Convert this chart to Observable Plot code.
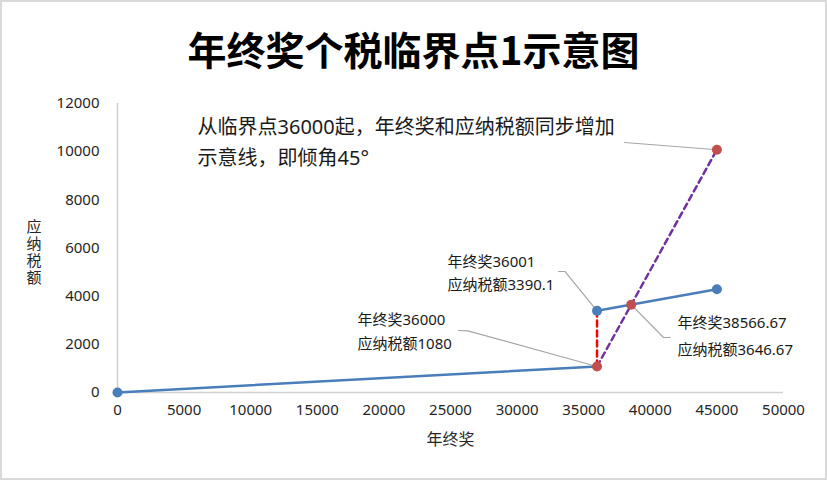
<!DOCTYPE html>
<html><head><meta charset="utf-8">
<script src="https://cdn.jsdelivr.net/npm/d3@7"></script>
<script src="https://cdn.jsdelivr.net/npm/@observablehq/plot@0.6"></script>
<style>
body{margin:0;background:#fff;}
#wrap{position:relative;width:827px;height:480px;overflow:hidden;background:#fff;font-family:"Noto Sans","Noto Sans CJK SC",sans-serif;}
#title{position:absolute;left:0;top:22px;width:827px;text-align:center;font:bold 39px "Noto Sans CJK SC","Noto Sans",sans-serif;color:#000;line-height:52px;}
#chart{position:absolute;left:0;top:90px;}
#frame{position:absolute;inset:0;border:2px solid #d9d9d9;pointer-events:none;}
</style></head>
<body>
<div id="wrap"><div id="title">年终奖个税临界点1示意图</div><div id="chart"></div><div id="frame"></div></div>
<script>
// data
const xTicks = [0,5000,10000,15000,20000,25000,30000,35000,40000,45000,50000];
const yTicks = [0,2000,4000,6000,8000,10000,12000];
const yLabel = "应纳税额", xLabel = "年终奖";
const bonusLow = [0, 36000], taxLow = [0, 1080];
const bonusHigh = [36001, 45000], taxHigh = [3390.1, 4290];
const diagBonus = [36000, 45000], diagTax = [1080, 10080];
const jumpBonus = [36000, 36000], jumpTax = [1080, 3390.1];
const redX = [36000, 38566.67, 45000], redY = [1080, 3646.67, 10080];
const blueX = [0, 36001, 45000], blueY = [0, 3390.1, 4290];
// annotations (data units)
const noteText = ["年终奖36000","应纳税额1080","年终奖36001","应纳税额3390.1","年终奖38566.67","应纳税额3646.67","从临界点36000起，年终奖和应纳税额同步增加","示意线，即倾角45°"];
const noteX = [18018,18018,24775,24775,42042,42042,6006,6006];
const noteY = [2990,1993,5398,4443,2865,1744,11004,9717];
const noteSize = [15,15,15,15,15,15,20,20];
const leaderId = [1,1,1,2,2,2,3,3,3,4,4];
const leaderX = [25600,26300,36000, 33108,33600,36001, 38566.67,40991,41500, 38063,45000];
const leaderY = [2574,2560,1080, 5024,5024,3390.1, 3646.67,2284,2284, 10381,10080];

const pts = (xs, ys) => xs.map((x,i)=>({x, y: ys[i]}));
const notes = noteText.map((t,i)=>({t, x: noteX[i], y: noteY[i], s: noteSize[i]}));
const leaders = leaderX.map((x,i)=>({x, y: leaderY[i], id: leaderId[i]}));

const chart = Plot.plot({
  width: 827, height: 390,
  marginLeft: 117, marginRight: 44, marginTop: 13, marginBottom: 88,
  style: {fontFamily: '"Noto Sans","Noto Sans CJK SC",sans-serif', fontSize: "15px", color: "#262626", background: "transparent"},
  x: {domain: [0, 50000]},
  y: {domain: [0, 12000]},
  marks: [
    Plot.ruleY([0], {stroke: "#d0d0d0", strokeWidth: 1.5}),
    Plot.ruleX([0], {stroke: "#d0d0d0", strokeWidth: 1.5}),
    Plot.axisX({ticks: xTicks, tickSize: 0, tickPadding: 12, tickFormat: d => String(d), label: null, fontSize: 15, fill: "#262626"}),
    Plot.axisY({ticks: yTicks, tickSize: 0, tickPadding: 18, tickFormat: d => String(d), label: null, fontSize: 15, fill: "#262626"}),
    Plot.text([xLabel], {frameAnchor: "bottom", dy: 52, fontSize: 16, fill: "#262626"}),
    Plot.text([yLabel], {frameAnchor: "left", dx: -84, fontSize: 15, fill: "#262626"}),
    Plot.line(leaders, {x: "x", y: "y", z: "id", stroke: "#a6a6a6", strokeWidth: 1.2}),
    Plot.line(pts(bonusLow, taxLow), {x: "x", y: "y", stroke: "#4a7ebb", strokeWidth: 2.5}),
    Plot.line(pts(bonusHigh, taxHigh), {x: "x", y: "y", stroke: "#4a7ebb", strokeWidth: 2.5}),
    Plot.line(pts(jumpBonus, jumpTax), {x: "x", y: "y", stroke: "#ff0000", strokeWidth: 2.5, strokeDasharray: "6,4"}),
    Plot.line(pts(diagBonus, diagTax), {x: "x", y: "y", stroke: "#7030a0", strokeWidth: 2.5, strokeDasharray: "6,4"}),
    Plot.dot(pts(blueX, blueY), {x: "x", y: "y", r: 5, fill: "#4a7ebb"}),
    Plot.dot(pts(redX, redY), {x: "x", y: "y", r: 5, fill: "#c0504d"}),
    Plot.text(notes, {x: "x", y: "y", text: "t", fontSize: "s", textAnchor: "start", fill: "#1a1a1a"})
  ]
});
// make the y-axis title upright and stacked vertically
chart.querySelectorAll("text").forEach(t => {
  if (t.textContent === yLabel) {
    t.removeAttribute("dy");
    t.style.writingMode = "vertical-rl";
    t.style.letterSpacing = "2px";
    t.setAttribute("text-anchor", "middle");
  }
});
document.getElementById("chart").appendChild(chart);
</script>
</body></html>
